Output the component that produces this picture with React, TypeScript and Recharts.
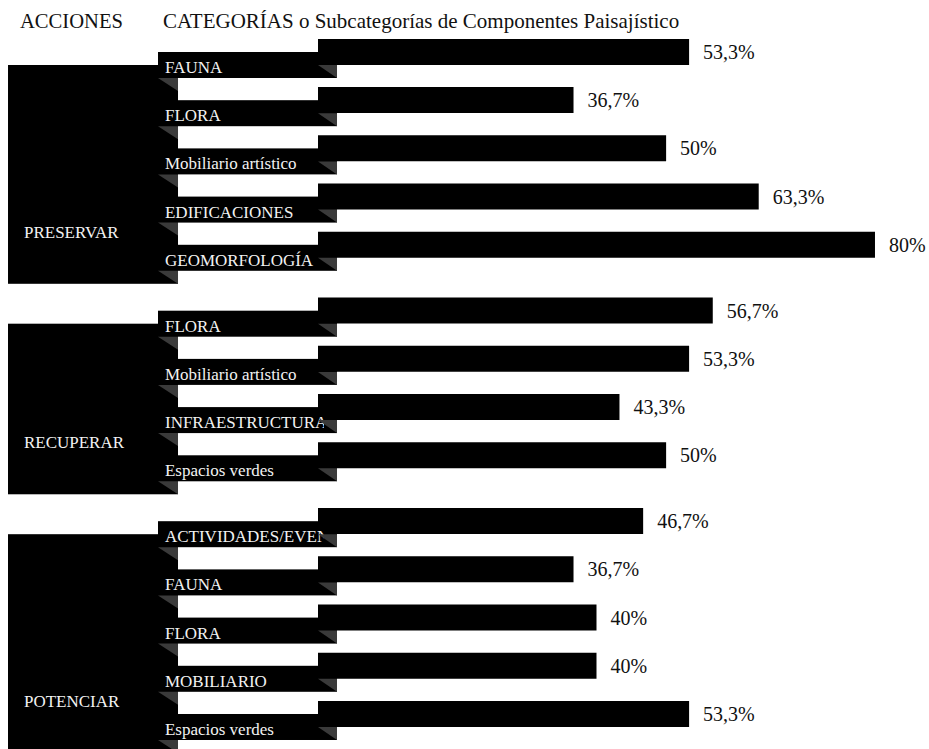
import { Bar, BarChart, LabelList, XAxis, YAxis } from "recharts";

// acciones (grupos) y subcategorías
const actionNames = ["PRESERVAR", "RECUPERAR", "POTENCIAR"];

const preservarCats = ["FAUNA", "FLORA", "Mobiliario artístico", "EDIFICACIONES", "GEOMORFOLOGÍA"];
const preservarValues = [53.3, 36.7, 50, 63.3, 80];

const recuperarCats = ["FLORA", "Mobiliario artístico", "INFRAESTRUCTURA", "Espacios verdes"];
const recuperarValues = [56.7, 53.3, 43.3, 50];

const potenciarCats = ["ACTIVIDADES/EVENTOS", "FAUNA", "FLORA", "MOBILIARIO", "Espacios verdes"];
const potenciarValues = [46.7, 36.7, 40, 40, 53.3];

const SERIF = "'Liberation Serif', 'Times New Roman', serif";
const W = 929;
const H = 749;
const ROW = 48.2;
const BAR_X = 318;
const PLOT_RIGHT = 875;
const FIRST_TOP = 27.9;
const GROUP_GAP = 17.7;

const groups = [
  { name: actionNames[0], cats: preservarCats, values: preservarValues },
  { name: actionNames[1], cats: recuperarCats, values: recuperarValues },
  { name: actionNames[2], cats: potenciarCats, values: potenciarValues },
];

const fmt = (v: any) => `${String(v).replace(".", ",")}%`;

const RowTick = (props: any) => {
  const { y, payload, index, rows, name, gid } = props;
  const clipId = `clip-${gid}-${index}`;
  return (
    <g>
      {index === 0 && (
        <g>
          <rect x={8} y={y + 13} width={170} height={(rows - 1) * ROW + 26} fill="#000" />
          <text x={24} y={y + (rows - 1) * ROW - 7} fill="#f2f2f2" fontSize={17} fontFamily={SERIF}>
            {name}
          </text>
        </g>
      )}
      <rect x={158} y={y} width={179} height={26} fill="#000" />
      <clipPath id={clipId}>
        <rect x={158} y={y} width={166} height={26} />
      </clipPath>
      <text
        x={165}
        y={y + 21}
        fill="#f2f2f2"
        fontSize={17}
        fontFamily={SERIF}
        clipPath={`url(#${clipId})`}
      >
        {payload.value}
      </text>
      <polygon points={`318,${y + 13} 337,${y + 13} 337,${y + 26}`} fill="#3a3a3a" />
      <polygon points={`158,${y + 26} 178,${y + 26} 178,${y + 39}`} fill="#3a3a3a" />
    </g>
  );
};

export default function App() {
  let top = FIRST_TOP;
  const charts = groups.map((g, gi) => {
    const rows = g.cats.length;
    const data = g.cats.map((cat, i) => ({ cat, value: g.values[i] }));
    const plotTop = top;
    const h = plotTop + rows * ROW + 30;
    top += rows * ROW + GROUP_GAP;
    return (
      <div key={g.name} style={{ position: "absolute", left: 0, top: 0 }}>
        <BarChart
          layout="vertical"
          width={W}
          height={h}
          data={data}
          barSize={26}
          margin={{ top: plotTop, right: W - PLOT_RIGHT, bottom: h - plotTop - rows * ROW, left: 0 }}
        >
          <XAxis type="number" domain={[0, 80]} hide />
          <YAxis
            type="category"
            dataKey="cat"
            width={BAR_X}
            axisLine={false}
            tickLine={false}
            interval={0}
            tick={(p: any) => <RowTick {...p} rows={rows} name={g.name} gid={gi} />}
          />
          <Bar dataKey="value" fill="#000" isAnimationActive={false}>
            <LabelList
              dataKey="value"
              position="right"
              offset={14}
              formatter={fmt}
              fill="#111"
              fontSize={20}
              fontFamily={SERIF}
            />
          </Bar>
        </BarChart>
      </div>
    );
  });

  return (
    <div
      style={{
        position: "absolute",
        left: 0,
        top: 0,
        width: W,
        height: H,
        overflow: "hidden",
        background: "#fff",
      }}
    >
      <svg width={W} height={40} style={{ position: "absolute", left: 0, top: 0 }}>
        <text x={20} y={28} fill="#111" fontSize={20.6} fontFamily={SERIF}>
          ACCIONES
        </text>
        <text x={163} y={28} fill="#111" fontSize={21} fontFamily={SERIF}>
          CATEGORÍAS o Subcategorías de Componentes Paisajístico
        </text>
      </svg>
      {charts}
    </div>
  );
}
